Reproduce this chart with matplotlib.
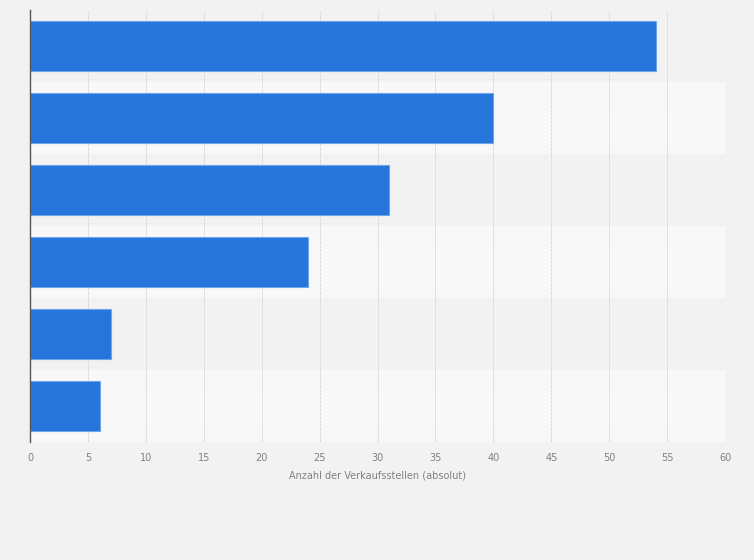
import matplotlib.pyplot as plt
import numpy as np

# Werte (Anzahl der Verkaufsstellen), von oben nach unten
values = [54, 40, 31, 24, 7, 6]
x_ticks = [0, 5, 10, 15, 20, 25, 30, 35, 40, 45, 50, 55, 60]
x_label = "Anzahl der Verkaufsstellen (absolut)"

fig = plt.figure(figsize=(7.54, 5.6), dpi=100)
fig.patch.set_facecolor('#f2f2f2')
ax = fig.add_axes([0.0398, 0.2107, 0.9218, 0.7715])
ax.set_facecolor('#f2f2f2')

n = len(values)
y = np.arange(n)

# alternierende Hintergrundbänder
for i in range(n):
    col = '#f2f2f2' if i % 2 == 0 else '#f8f8f8'
    ax.axhspan(i - 0.5, i + 0.5, color=col, zorder=0, lw=0)

ax.barh(y, values, height=0.69, color='#2775db', edgecolor='#6fa3ea',
        linewidth=0.8, zorder=3)

ax.set_ylim(n - 0.5, -0.5)
ax.set_xlim(0, 60)
ax.set_xticks(x_ticks)
ax.set_xticklabels([str(t) for t in x_ticks], fontsize=7, color='#808080')
ax.set_yticks([])
ax.tick_params(axis='x', length=0, pad=8)
ax.xaxis.grid(True, color='#dadada', linestyle=(0, (3, 1)), linewidth=0.7, zorder=1)
ax.set_axisbelow(True)

for s in ['top', 'right', 'bottom']:
    ax.spines[s].set_visible(False)
ax.spines['left'].set_color('#555555')
ax.spines['left'].set_linewidth(1.0)
ax.spines['left'].set_zorder(4)

ax.set_xlabel(x_label, fontsize=7, color='#808080', labelpad=5)

fig.savefig('out.png', dpi=100, facecolor=fig.get_facecolor())
